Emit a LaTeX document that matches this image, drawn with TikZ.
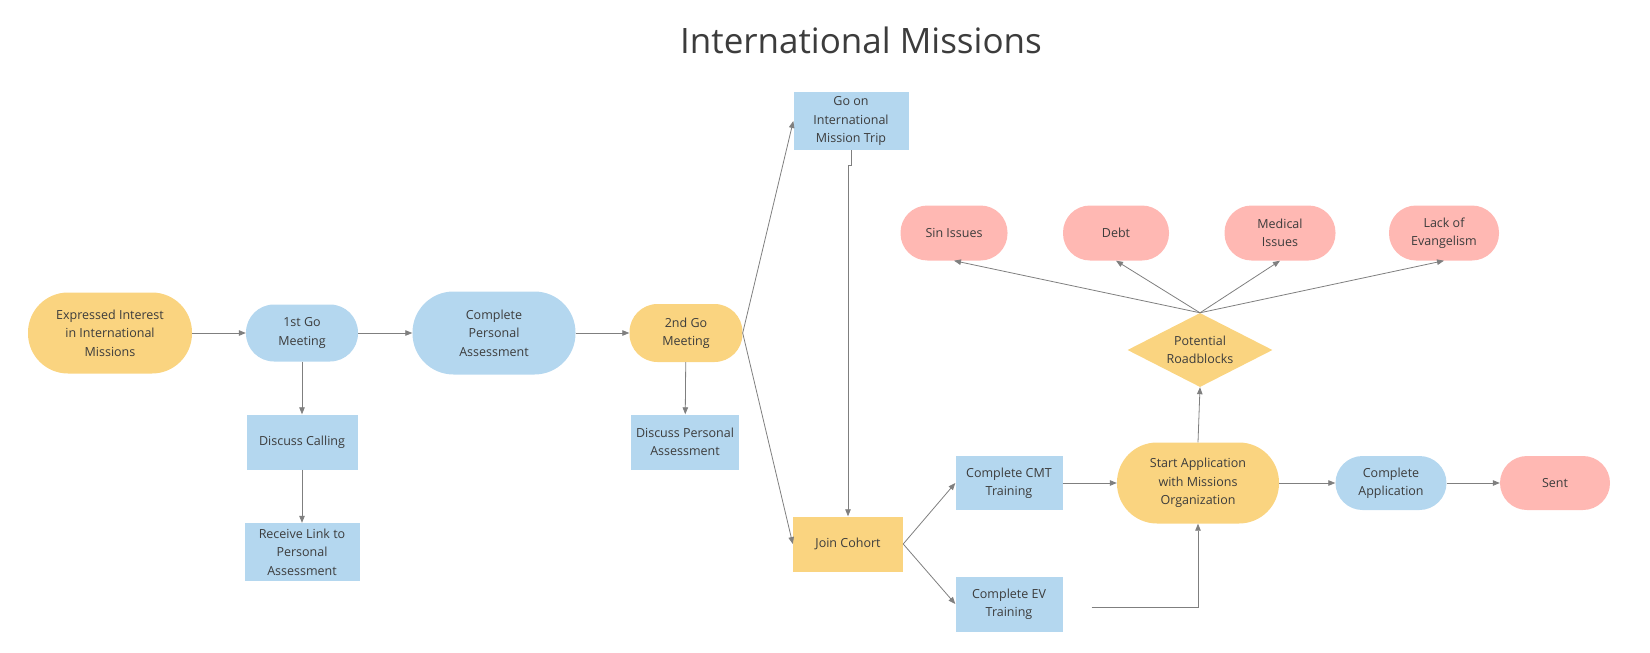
\documentclass[tikz,border=0pt]{standalone}
\usepackage{fontspec}
\setmainfont{Open Sans}
\usetikzlibrary{shapes.geometric,arrows.meta}
\definecolor{yel}{HTML}{FAD480}
\definecolor{blu}{HTML}{B4D7EF}
\definecolor{pnk}{HTML}{FFB8B3}
\definecolor{lin}{HTML}{7F7F7F}
\definecolor{txt}{HTML}{3C3C3C}
\tikzset{
  base/.style={align=center, inner sep=0pt, text=txt, draw=none,
    font=\fontsize{12.5}{18.5}\selectfont},
  pill/.style 2 args={base, rectangle, minimum width=#1, minimum height=#2},
  boxnode/.style 2 args={base, rectangle, fill=blu, minimum width=#1, minimum height=#2},
  arr/.style={draw=lin, line width=0.8pt, -{Triangle[length=7pt,width=5.5pt]}},
}
\begin{document}
\begin{tikzpicture}[x=1pt,y=-1pt]
\useasboundingbox (0,0) rectangle (1650,653);

% title
\node[text=txt, font=\fontsize{35}{40}\selectfont] (title) at (861,40) {International Missions};

% first row
\node[pill={164pt}{81pt}, fill=yel, rounded corners=40pt] (interest) at (110,333)
  {Expressed Interest\\in International\\Missions};
\node[pill={112pt}{57pt}, fill=blu, rounded corners=28pt] (go1) at (302,333)
  {1st Go\\Meeting};
\node[pill={163pt}{83pt}, fill=blu, rounded corners=41pt] (assess) at (494,333)
  {Complete\\Personal\\Assessment};
\node[pill={113pt}{58pt}, fill=yel, rounded corners=28pt] (go2) at (686,333)
  {2nd Go\\Meeting};

% side steps
\node[boxnode={111pt}{55pt}] (calling) at (302,442) {Discuss Calling};
\node[boxnode={115pt}{58pt}] (link) at (302,552) {Receive Link to\\Personal\\Assessment};
\node[boxnode={108pt}{55pt}] (discuss) at (685,442) {Discuss Personal\\Assessment};
\node[boxnode={115pt}{58pt}] (trip) at (851,121) {Go on\\International\\Mission Trip};

% cohort and training
\node[boxnode={110pt}{55pt}, fill=yel] (cohort) at (848,544) {Join Cohort};
\node[boxnode={107pt}{54pt}] (cmt) at (1009,483) {Complete CMT\\Training};
\node[boxnode={107pt}{55pt}] (ev) at (1009,604) {Complete EV\\Training};

% application
\node[pill={162pt}{81pt}, fill=yel, rounded corners=40pt] (start) at (1198,483)
  {Start Application\\with Missions\\Organization};
\node[pill={111pt}{54pt}, fill=blu, rounded corners=27pt] (capp) at (1391,483)
  {Complete\\Application};
\node[pill={110pt}{54pt}, fill=pnk, rounded corners=27pt] (sent) at (1555,483) {Sent};

% roadblocks
\node[base, diamond, fill=yel, aspect=1.96, minimum width=145pt, minimum height=74pt]
  (block) at (1200,350) {Potential\\Roadblocks};
\node[pill={107pt}{55pt}, fill=pnk, rounded corners=27pt] (sin) at (954,233) {Sin Issues};
\node[pill={106pt}{55pt}, fill=pnk, rounded corners=27pt] (debt) at (1116,233) {Debt};
\node[pill={111pt}{55pt}, fill=pnk, rounded corners=27pt] (med) at (1280,233) {Medical\\Issues};
\node[pill={110pt}{55pt}, fill=pnk, rounded corners=27pt] (lack) at (1444,233) {Lack of\\Evangelism};

% connectors
\draw[arr] (interest) -- (go1);
\draw[arr] (go1) -- (assess);
\draw[arr] (assess) -- (go2);
\draw[arr] (go1) -- (calling);
\draw[arr] (calling) -- (link);
\draw[arr] (go2) -- (discuss);
\draw[arr] (go2.east) -- (trip.west);
\draw[arr] (go2.east) -- (cohort.west);
\draw[arr] (trip.south) -- ++(0,15) -| (cohort.north);
\draw[arr] (cohort.east) -- (cmt.west);
\draw[arr] (cohort.east) -- (ev.west);
\draw[arr] (cmt) -- (start);
\draw[arr] ([xshift=29pt,yshift=-3pt]ev.east) -| (start.south);
\draw[arr] (start) -- (capp);
\draw[arr] (capp) -- (sent);
\draw[arr] (start.north) -- (block.south);
\draw[arr] (block.north) -- (sin.south);
\draw[arr] (block.north) -- (debt.south);
\draw[arr] (block.north) -- (med.south);
\draw[arr] (block.north) -- (lack.south);
\end{tikzpicture}
\end{document}
